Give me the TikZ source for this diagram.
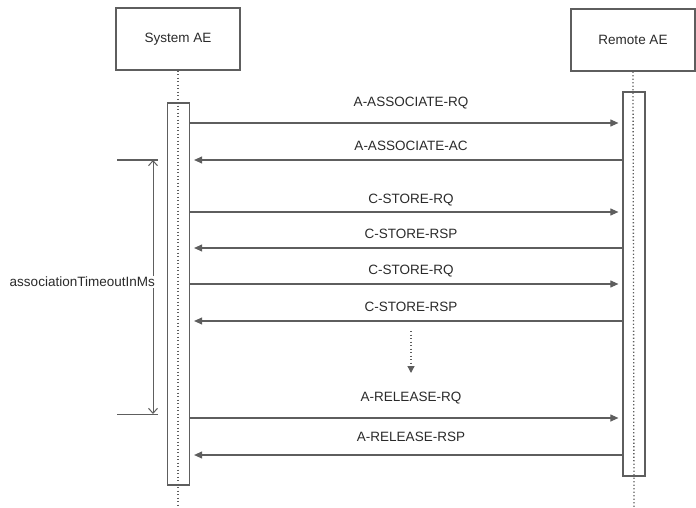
\documentclass[tikz,border=0pt]{standalone}
\usepackage{fontspec}
\setmainfont{Liberation Sans}
\usetikzlibrary{arrows.meta,positioning}
\definecolor{lineGray}{HTML}{5E5E5E}
\definecolor{textGray}{HTML}{2A2A2A}

\begin{document}
\begin{tikzpicture}[
    x=1pt, y=-1pt,
    font=\fontsize{13.5}{16}\selectfont,
    text=textGray,
    actor/.style={rectangle, draw=lineGray, line width=1.2pt, fill=white, minimum width=124pt, minimum height=62pt, inner sep=0pt},
    bar/.style={rectangle, draw=lineGray, line width=1.2pt, minimum width=22pt, inner sep=0pt},
    lifeline/.style={lineGray, line width=1.3pt, dash pattern=on 1.3pt off 2.2pt},
    msg/.style={lineGray, line width=1.1pt, -{Triangle[length=8pt, width=7pt]}, shorten >=4pt},
    msglabel/.style={inner sep=1pt},
    arrow/.style={lineGray, line width=1pt, {Straight Barb[length=5pt, width=9pt]}-{Straight Barb[length=5pt, width=9pt]}}
]
\useasboundingbox (0,0) rectangle (696,508);

% participants
\node[actor] (sys) at (178,39) {System AE};
\node[actor] (rem) at (633,40) {Remote AE};

% activation bars
\node[bar, minimum height=382pt] (sysbar) at (178.5,294) {};
\node[bar, minimum height=384pt] (rembar) at (634,284) {};

% lifelines
\coordinate (sysend) at (178,508);
\coordinate (remend) at (634,508);
\draw[lifeline] (sys.south) -- (sysend);
\draw[lifeline] (rem.south) -- (remend);

% requests
\foreach \y/\ly/\txt in {123/103/A-ASSOCIATE-RQ, 212/200/C-STORE-RQ, 284/271/C-STORE-RQ, 418/398/A-RELEASE-RQ}{
  \draw[msg] (sysbar.east |- {0,\y}) -- (rembar.west |- {0,\y});
  \node[msglabel] at (411,\ly) {\txt};
}
% responses
\foreach \y/\ly/\txt in {160/146/A-ASSOCIATE-AC, 248/234/C-STORE-RSP, 321/307/C-STORE-RSP, 455/437/A-RELEASE-RSP}{
  \draw[msg] (rembar.west |- {0,\y}) -- (sysbar.east |- {0,\y});
  \node[msglabel] at (411,\ly) {\txt};
}

% more messages
\coordinate (dtop) at (411,331);
\coordinate (dbot) at (411,373);
\draw[lineGray, line width=1.3pt, dash pattern=on 1.3pt off 2.2pt, -{Triangle[length=7pt, width=7pt]}] (dtop) -- (dbot);

% timeout
\coordinate (ttop) at (117,160);
\coordinate (tbot) at (117,414);
\draw[lineGray, line width=1pt] (ttop) -- ++(41,0);
\draw[lineGray, line width=1pt] (tbot) -- ++(41,0);
\draw[arrow] ([xshift=36pt]ttop) -- ([xshift=36pt]tbot);
\node[fill=white, inner sep=1pt, anchor=east] (tlabel) at (156,282) {associationTimeoutInMs};
\end{tikzpicture}
\end{document}
